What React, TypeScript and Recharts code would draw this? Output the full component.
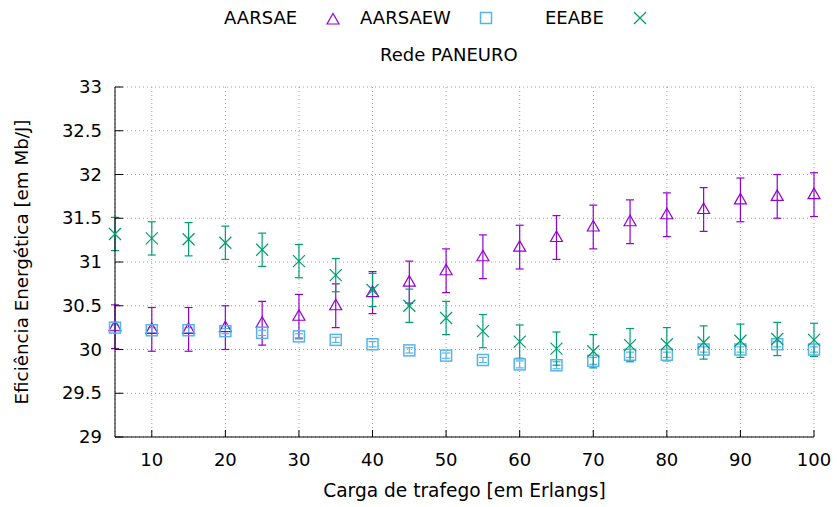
import { ScatterChart, Scatter, XAxis, YAxis, CartesianGrid, ErrorBar } from "recharts";

const loads = [5, 10, 15, 20, 25, 30, 35, 40, 45, 50, 55, 60, 65, 70, 75, 80, 85, 90, 95, 100];

const aarsae = [30.26, 30.23, 30.23, 30.25, 30.3, 30.38, 30.5, 30.65, 30.77, 30.9, 31.06, 31.17, 31.28, 31.4, 31.46, 31.54, 31.6, 31.71, 31.75, 31.77];
const aarsaeErr = [0.25, 0.25, 0.25, 0.25, 0.25, 0.25, 0.25, 0.24, 0.24, 0.25, 0.25, 0.25, 0.25, 0.25, 0.25, 0.25, 0.25, 0.25, 0.25, 0.25];

const aarsaew = [30.25, 30.22, 30.22, 30.21, 30.19, 30.15, 30.11, 30.06, 29.99, 29.93, 29.88, 29.83, 29.82, 29.87, 29.94, 29.94, 30.0, 30.0, 30.06, 30.0];
const aarsaewErr = [0.03, 0.03, 0.03, 0.03, 0.03, 0.03, 0.03, 0.03, 0.03, 0.03, 0.03, 0.04, 0.04, 0.04, 0.03, 0.03, 0.03, 0.03, 0.03, 0.03];

const eeabe = [31.32, 31.27, 31.26, 31.22, 31.14, 31.01, 30.85, 30.68, 30.5, 30.36, 30.21, 30.09, 30.01, 29.98, 30.05, 30.06, 30.08, 30.1, 30.12, 30.11];
const eeabeErr = [0.19, 0.19, 0.19, 0.19, 0.19, 0.19, 0.19, 0.19, 0.19, 0.19, 0.19, 0.19, 0.19, 0.19, 0.19, 0.19, 0.19, 0.19, 0.19, 0.19];

const xTicks = [10, 20, 30, 40, 50, 60, 70, 80, 90, 100];
const yTicks = [29, 29.5, 30, 30.5, 31, 31.5, 32, 32.5, 33];

const PURPLE = "#9400d3";
const BLUE = "#56b4e9";
const GREEN = "#009e73";
const FONT = "'DejaVu Sans', sans-serif";

const toRows = (ys: number[], errs: number[]) => loads.map((x, i) => ({ x, y: ys[i], err: errs[i] }));

const Triangle = ({ cx, cy }: any) => (
  <polygon
    points={`${cx},${cy - 6.5} ${cx - 6},${cy + 4} ${cx + 6},${cy + 4}`}
    fill="none"
    stroke={PURPLE}
    strokeWidth={1.2}
  />
);

const Square = ({ cx, cy }: any) => (
  <rect x={cx - 5.5} y={cy - 5.5} width={11} height={11} fill="none" stroke={BLUE} strokeWidth={1.5} />
);

const Cross = ({ cx, cy }: any) => (
  <g stroke={GREEN} strokeWidth={1.2}>
    <line x1={cx - 6} y1={cy - 6} x2={cx + 6} y2={cy + 6} />
    <line x1={cx - 6} y1={cy + 6} x2={cx + 6} y2={cy - 6} />
  </g>
);

const BottomTick = ({ x, y, payload }: any) => (
  <g>
    <line x1={x} y1={y} x2={x} y2={y - 7} stroke="#000" />
    <text x={x} y={y + 29} textAnchor="middle" fontSize={18} fontFamily={FONT} fill="#000">
      {payload.value}
    </text>
  </g>
);

const LeftTick = ({ x, y, payload }: any) => (
  <g>
    <line x1={x} y1={y} x2={x + 8} y2={y} stroke="#000" />
    <text x={x - 13} y={y + 6} textAnchor="end" fontSize={18} fontFamily={FONT} fill="#000">
      {payload.value}
    </text>
  </g>
);

const TopTick = ({ x, y }: any) => <line x1={x} y1={y} x2={x} y2={y + 7} stroke="#000" />;
const RightTick = ({ x, y }: any) => <line x1={x} y1={y} x2={x - 8} y2={y} stroke="#000" />;

const legendText = { position: "absolute" as const, top: 6, fontSize: 18, fontFamily: FONT, color: "#000", lineHeight: "24px" };

export default function App() {
  return (
    <div style={{ position: "absolute", left: 0, top: 0, width: 837, height: 507, background: "#fff" }}>
      <ScatterChart width={837} height={507} margin={{ top: 87, right: 23, bottom: 0, left: 0 }}>
        <CartesianGrid stroke="#a0a0a0" strokeDasharray="1 3" />
        <XAxis
          type="number"
          dataKey="x"
          domain={[5, 100]}
          ticks={xTicks}
          height={70}
          tickLine={false}
          tickSize={0}
          tickMargin={0}
          axisLine={{ stroke: "#000" }}
          tick={<BottomTick />}
          label={{ value: "Carga de trafego [em Erlangs]", position: "insideBottom", offset: 10, style: { fontSize: 18.6, fontFamily: FONT, fill: "#000" } }}
        />
        <XAxis
          xAxisId="top"
          orientation="top"
          type="number"
          domain={[5, 100]}
          ticks={xTicks}
          height={0}
          tickLine={false}
          tickSize={0}
          tickMargin={0}
          axisLine={{ stroke: "#000" }}
          tick={<TopTick />}
        />
        <YAxis
          type="number"
          dataKey="y"
          domain={[29, 33]}
          ticks={yTicks}
          width={115}
          tickLine={false}
          tickSize={0}
          tickMargin={0}
          axisLine={{ stroke: "#000" }}
          tick={<LeftTick />}
          label={{ value: "Eficiência Energética [em Mb/J]", angle: -90, position: "insideLeft", offset: 22, style: { textAnchor: "middle", fontSize: 18.3, fontFamily: FONT, fill: "#000" } }}
        />
        <YAxis
          yAxisId="right"
          orientation="right"
          type="number"
          domain={[29, 33]}
          ticks={yTicks}
          width={0}
          tickLine={false}
          tickSize={0}
          tickMargin={0}
          axisLine={{ stroke: "#000" }}
          tick={<RightTick />}
        />
        <Scatter data={toRows(aarsae, aarsaeErr)} shape={<Triangle />} isAnimationActive={false}>
          <ErrorBar dataKey="err" direction="y" width={4} stroke={PURPLE} strokeWidth={1.2} />
        </Scatter>
        <Scatter data={toRows(aarsaew, aarsaewErr)} shape={<Square />} isAnimationActive={false}>
          <ErrorBar dataKey="err" direction="y" width={4} stroke={BLUE} strokeWidth={1.2} />
        </Scatter>
        <Scatter data={toRows(eeabe, eeabeErr)} shape={<Cross />} isAnimationActive={false}>
          <ErrorBar dataKey="err" direction="y" width={4} stroke={GREEN} strokeWidth={1.2} />
        </Scatter>
      </ScatterChart>

      <div style={{ ...legendText, left: 224 }}>AARSAE</div>
      <svg style={{ position: "absolute", left: 324, top: 10 }} width={18} height={18}>
        <Triangle cx={9} cy={10} />
      </svg>
      <div style={{ ...legendText, left: 360 }}>AARSAEW</div>
      <svg style={{ position: "absolute", left: 477, top: 9 }} width={18} height={18}>
        <Square cx={9} cy={9} />
      </svg>
      <div style={{ ...legendText, left: 545 }}>EEABE</div>
      <svg style={{ position: "absolute", left: 631, top: 9 }} width={18} height={18}>
        <Cross cx={9} cy={9} />
      </svg>
      <div style={{ ...legendText, top: 43, left: 380 }}>Rede PANEURO</div>
    </div>
  );
}
